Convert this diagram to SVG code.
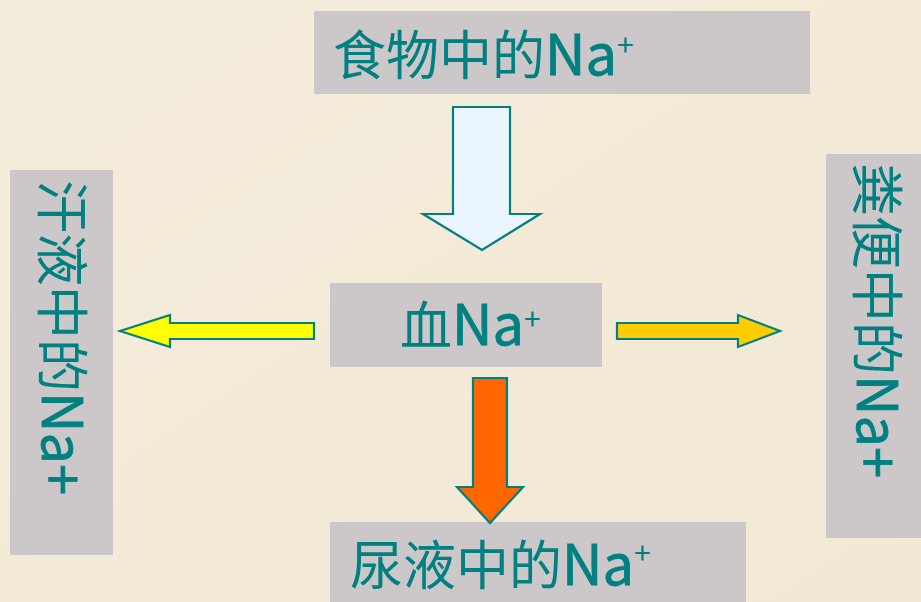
<svg xmlns="http://www.w3.org/2000/svg" width="921" height="602" viewBox="0 0 921 602">
  <style>
    .box { fill: #CCC7C8; }
    .t { font-family: "Noto Sans CJK SC", "Liberation Sans", sans-serif; font-size: 53px; fill: #008080; }
    .la { font-size: 56px; stroke: #008080; stroke-width: 0.8; }
    .sup { font-size: 30px; }
    .arrow { stroke: #008080; stroke-width: 2.2; stroke-linejoin: miter; }
  </style>
  <defs>
    <linearGradient id="bg" x1="0" y1="0" x2="1" y2="1">
      <stop offset="0" stop-color="#F5EDDC"/>
      <stop offset="0.5" stop-color="#F3EAD8"/>
      <stop offset="1" stop-color="#F1E8D6"/>
    </linearGradient>
  </defs>
  <rect x="0" y="0" width="921" height="602" fill="url(#bg)"/>

  <g id="node-food">
    <rect class="box" x="314" y="11" width="496" height="83"/>
    <text class="t" x="333" y="75">食物中的<tspan class="la">Na</tspan><tspan class="sup" dy="-19">+</tspan></text>
  </g>

  <g id="node-sweat">
    <rect class="box" x="10" y="170" width="103" height="385"/>
    <text class="t" transform="translate(42,180) rotate(90)" x="0" y="0">汗液中的<tspan class="la">Na+</tspan></text>
  </g>

  <g id="node-feces">
    <rect class="box" x="826" y="154" width="95" height="384"/>
    <text class="t" transform="translate(857,163) rotate(90)" x="0" y="0">粪便中的<tspan class="la">Na+</tspan></text>
  </g>

  <g id="node-blood">
    <rect class="box" x="330" y="283" width="272" height="84"/>
    <text class="t" x="400" y="345" style="font-size:52px">血<tspan class="la">Na</tspan><tspan class="sup" dy="-15">+</tspan></text>
  </g>

  <g id="node-urine">
    <rect class="box" x="330" y="522" width="416" height="80"/>
    <text class="t" x="350" y="585">尿液中的<tspan class="la">Na</tspan><tspan class="sup" dy="-21">+</tspan></text>
  </g>

  <g id="connectors">
    <polygon class="arrow" fill="#EAF5FD" points="453,107 510,107 510,214 540,214 482,250 423,214 453,214"/>
    <polygon class="arrow" fill="#FF6600" points="473,378 507,378 507,487 523,487 490,523 457,487 473,487"/>
    <polygon class="arrow" fill="#FFFF00" points="120,331 170,315 170,323 314,323 314,339 170,339 170,347"/>
    <polygon class="arrow" fill="#FFCC00" points="617,323 738,323 738,315 780,331 738,347 738,339 617,339"/>
  </g>
</svg>
